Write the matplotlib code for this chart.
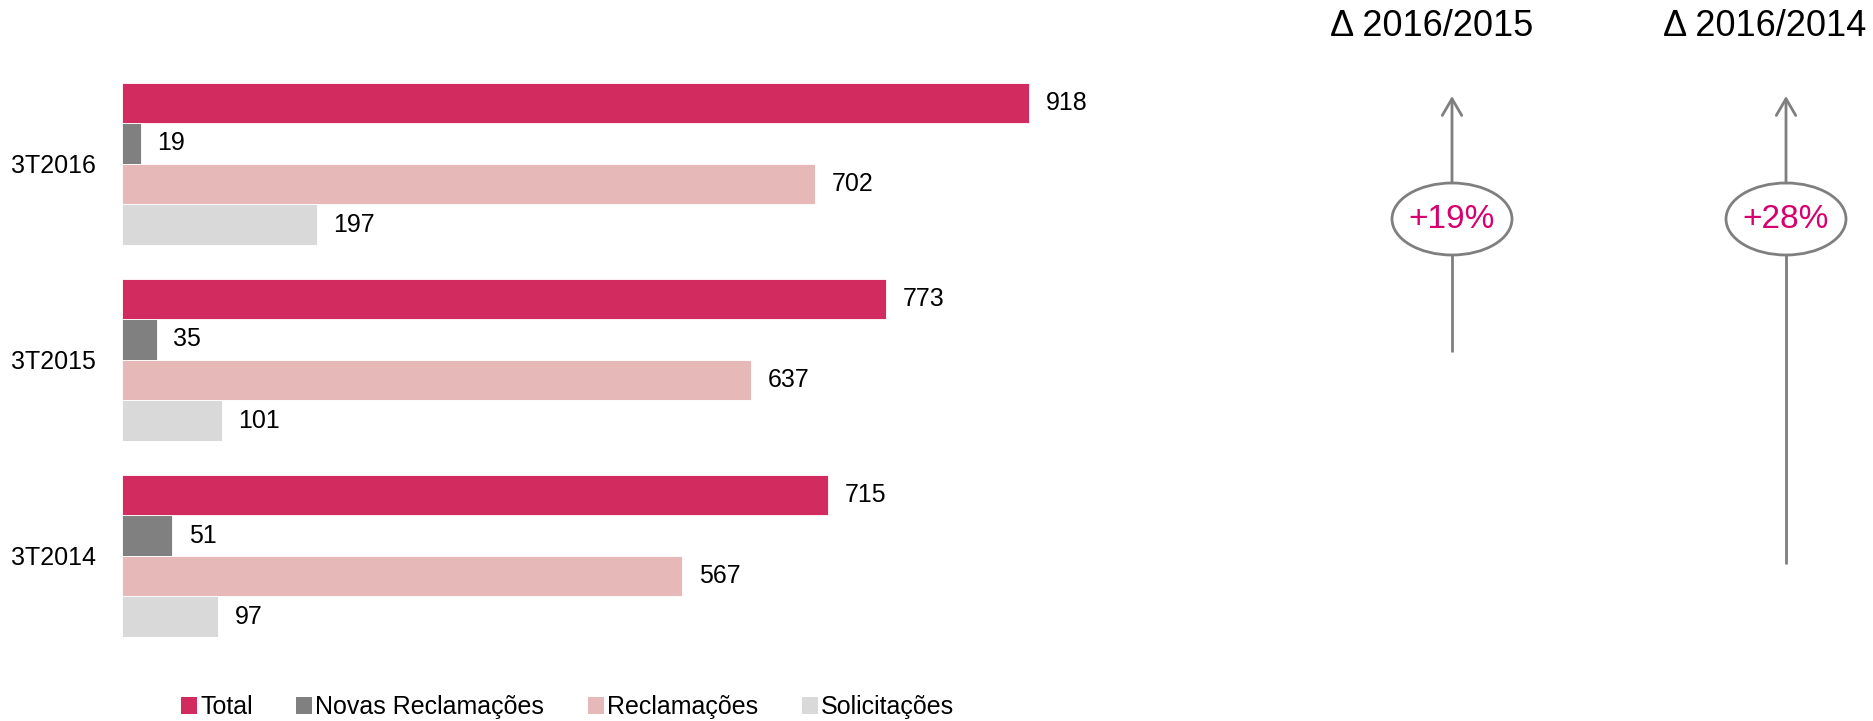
import numpy as np
import matplotlib
matplotlib.use("Agg")
import matplotlib.pyplot as plt
from matplotlib.patches import Ellipse, Patch

plt.rcParams['font.family'] = ['Liberation Sans', 'DejaVu Sans']

# data
periods = ['3T2016', '3T2015', '3T2014']
series_names = ['Total', 'Novas Reclamações', 'Reclamações', 'Solicitações']
total = [918, 773, 715]
novas = [19, 35, 51]
reclamacoes = [702, 637, 567]
solicitacoes = [197, 101, 97]
colors = ['#D22B5F', '#808080', '#E6B8B7', '#D9D9D9']

gray = '#7F7F7F'
magenta = '#D6006E'

fig = plt.figure(figsize=(18.73, 7.21), dpi=100)
W, H = 1873, 721

# main bar axes (pixel layout converted to figure fractions)
ax = fig.add_axes([122 / W, 1 - 637 / H, 978 / W, (637 - 82.5) / H])
bar_h = 0.207
y = np.arange(len(periods))
for j, vals in enumerate([total, novas, reclamacoes, solicitacoes]):
    ypos = y - 2 * bar_h + (j + 0.5) * bar_h
    bars = ax.barh(ypos, vals, height=bar_h, color=colors[j],
                   edgecolor='white', linewidth=0.6)
    for b, v in zip(bars, vals):
        ax.annotate(str(v), xy=(v, b.get_y() + b.get_height() / 2),
                    xytext=(12, 0), textcoords='offset points',
                    ha='left', va='center', fontsize=18)

ax.set_xlim(0, 990)
ax.set_ylim(len(periods) - 1 + 2 * bar_h, -2 * bar_h)
ax.set_yticks(y)
ax.set_yticklabels(periods, fontsize=18)
ax.tick_params(axis='y', length=0, pad=19)
ax.set_xticks([])
for s in ax.spines.values():
    s.set_visible(False)

# overlay in pixel coords for the delta arrows
ov = fig.add_axes([0, 0, 1, 1], facecolor='none')
ov.set_xlim(0, W)
ov.set_ylim(H, 0)
ov.axis('off')

deltas = [
    ('Δ 2016/2015', round((total[0] / total[1] - 1) * 100), 1452, 1432, 352),
    ('Δ 2016/2014', round((total[0] / total[2] - 1) * 100), 1786, 1765, 564),
]
ell_y, ell_w, ell_h = 219, 120, 72
for title, pct, x, tx, y_bottom in deltas:
    ov.text(tx, 26, title, ha='center', va='center', fontsize=26)
    ov.annotate('', xy=(x, 96), xytext=(x, ell_y - ell_h / 2),
                arrowprops=dict(arrowstyle='->, head_length=0.6, head_width=0.35',
                                color=gray, lw=2, mutation_scale=20,
                                shrinkA=0, shrinkB=0))
    ov.plot([x, x], [ell_y + ell_h / 2, y_bottom], color=gray, lw=2,
            solid_capstyle='butt')
    ov.add_patch(Ellipse((x, ell_y), ell_w, ell_h, facecolor='white',
                         edgecolor=gray, lw=2))
    ov.text(x, ell_y + 1, f'+{pct}%', ha='center', va='center',
            fontsize=24, color=magenta)

handles = [Patch(facecolor=c, edgecolor='none') for c in colors]
fig.legend(handles, series_names, loc='center', bbox_to_anchor=(0.303, 0.019),
           ncol=4, frameon=False, fontsize=18, handlelength=0.64,
           handleheight=0.64, handletextpad=0.12, columnspacing=1.75)

fig.savefig('out.png', dpi=100)
